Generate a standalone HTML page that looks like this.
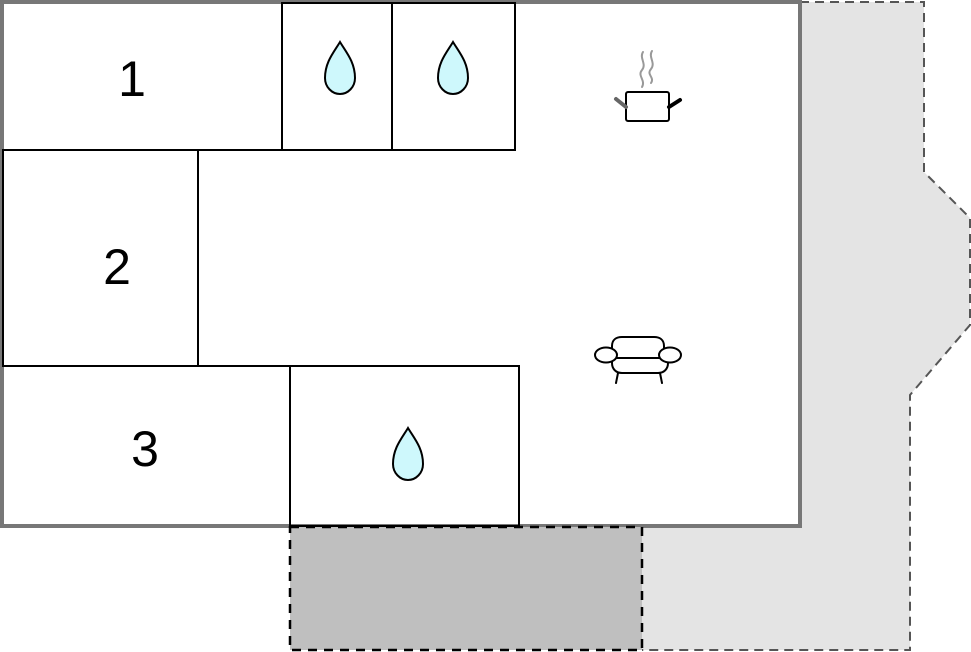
<!DOCTYPE html><html><head><style>body{margin:0;background:#fff}svg{display:block}</style></head><body>
<svg width="971" height="652" viewBox="0 0 971 652" xmlns="http://www.w3.org/2000/svg">
<defs><path id="d" d="M0,-26 C6,-16 15,-6 15,10 C15,19 8,26 0,26 C-8,26 -15,19 -15,10 C-15,-6 -6,-16 0,-26Z" fill="#cef8fc" stroke="#000" stroke-width="2"/></defs>
<polygon points="800,2 924,2 924,172 970,218 970,325 910,395 910,650 642,650 642,527 800,527" fill="#e4e4e4"/>
<polyline points="800,2 924,2 924,172 970,218 970,325 910,395 910,650 642,650" fill="none" stroke="#555" stroke-width="2" stroke-dasharray="9,6"/>
<rect x="2" y="2" width="798" height="524" fill="#fff" stroke="#777" stroke-width="4"/>
<rect x="290" y="527" width="352" height="123" fill="#bfbfbf" stroke="#000" stroke-width="2.5" stroke-dasharray="9,7"/>
<g fill="none" stroke="#000" stroke-width="2">
<rect x="282" y="3" width="110" height="147"/><rect x="392" y="3" width="123" height="147"/>
<line x1="3" y1="150" x2="282" y2="150"/>
<rect x="3" y="150" width="195" height="216"/>
<rect x="290" y="366" width="229" height="160"/>
<line x1="3" y1="366" x2="290" y2="366"/>
</g>
<use href="#d" x="340" y="68"/><use href="#d" x="453" y="68"/><use href="#d" x="408" y="454"/>
<g font-family="Liberation Sans, sans-serif" font-size="50" text-anchor="middle">
<text x="132" y="96">1</text><text x="117" y="284">2</text><text x="145" y="466">3</text></g>
<g fill="none" stroke-linecap="round">
<path d="M643,52 c-4,6 4,12 -1,18 s4,10 0,17" stroke="#999" stroke-width="2"/>
<path d="M652,51 c-4,6 4,12 -1,18 s4,8 0,14" stroke="#999" stroke-width="2"/>
<rect x="626" y="92" width="43" height="29" rx="2" stroke="#000" stroke-width="2" fill="#fff"/>
<line x1="616" y1="99" x2="626" y2="107" stroke="#666" stroke-width="4"/>
<line x1="669" y1="107" x2="680" y2="100" stroke="#000" stroke-width="4"/>
<path d="M612,350 v-4 c0,-6 4,-9 10,-9 h32 c6,0 10,3 10,9 v4 M614,358 h52 M612,361 v2 c0,6 4,10 10,10 h36 c6,0 10,-4 10,-10 v-2 M618,373 l-2,10 M660,373 l2,10" stroke="#000" stroke-width="2"/>
<ellipse cx="606" cy="355" rx="11" ry="7.5" stroke="#000" stroke-width="2" fill="#fff"/>
<ellipse cx="670" cy="355" rx="11" ry="7.5" stroke="#000" stroke-width="2" fill="#fff"/>
</g>
</svg></body></html>
